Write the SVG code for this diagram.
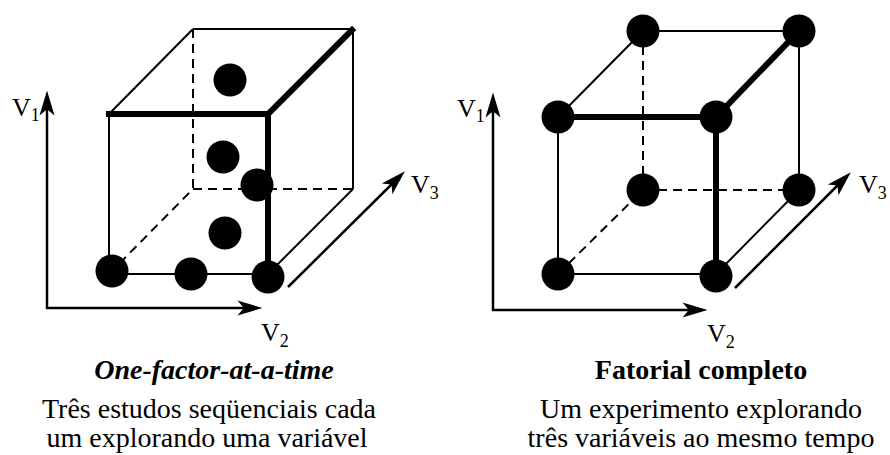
<svg xmlns="http://www.w3.org/2000/svg" width="890" height="455" viewBox="0 0 890 455">
<style>
.thin{stroke:#000;stroke-width:2;fill:none}
.thick{stroke:#000;stroke-width:6;fill:none;stroke-linecap:square}
.dash{stroke:#000;stroke-width:2;fill:none;stroke-dasharray:9 6}
.axis{stroke:#000;stroke-width:2.5;fill:none;marker-end:url(#ah)}
.dot{fill:#000}
text{font-family:"Liberation Serif","Times New Roman",Times,serif;fill:#000}
.lab{font-size:26px}
.sub{font-size:18px}
.cap{font-size:28px;text-anchor:middle}
.title{font-weight:bold}
</style>
<defs>
<marker id="ah" markerUnits="userSpaceOnUse" markerWidth="30" markerHeight="20" viewBox="-12 -8 24 16" refX="0" refY="0" orient="auto">
<path d="M10,0 L-10,-6 L-5,0 L-10,6 Z" fill="#000"/>
</marker>
</defs>
<g id="connectors">
<line class="thin" x1="109" y1="114" x2="109" y2="274"/>
<line class="thin" x1="109" y1="274" x2="268" y2="274"/>
<line class="thin" x1="193" y1="29" x2="353" y2="29"/>
<line class="thin" x1="109" y1="114" x2="193" y2="29"/>
<line class="thin" x1="353" y1="29" x2="353" y2="189"/>
<line class="thin" x1="268" y1="274" x2="353" y2="189"/>
<line class="dash" x1="193" y1="29" x2="193" y2="189"/>
<line class="dash" x1="193" y1="189" x2="353" y2="189"/>
<line class="dash" x1="109" y1="274" x2="193" y2="189"/>
<line class="thick" x1="109" y1="114" x2="268" y2="114"/>
<line class="thick" x1="268" y1="114" x2="268" y2="274"/>
<line class="thick" x1="268" y1="114" x2="352" y2="30"/>
<line class="axis" x1="47" y1="309" x2="47" y2="103"/>
<line class="axis" x1="46" y1="308" x2="250" y2="308"/>
<line class="axis" x1="288" y1="287" x2="396" y2="180"/>
<line class="thin" x1="558" y1="117" x2="558" y2="274"/>
<line class="thin" x1="558" y1="274" x2="716" y2="274"/>
<line class="thin" x1="643" y1="31" x2="799" y2="31"/>
<line class="thin" x1="558" y1="117" x2="643" y2="31"/>
<line class="thin" x1="799" y1="31" x2="799" y2="190"/>
<line class="thin" x1="716" y1="274" x2="799" y2="190"/>
<line class="dash" x1="643" y1="31" x2="643" y2="190"/>
<line class="dash" x1="643" y1="190" x2="799" y2="190"/>
<line class="dash" x1="558" y1="274" x2="643" y2="190"/>
<line class="thick" x1="558" y1="117" x2="716" y2="117"/>
<line class="thick" x1="716" y1="117" x2="716" y2="274"/>
<line class="thick" x1="716" y1="117" x2="799" y2="31"/>
<line class="axis" x1="493" y1="311" x2="493" y2="105"/>
<line class="axis" x1="492" y1="310" x2="695" y2="310"/>
<line class="axis" x1="735" y1="288" x2="842" y2="181"/>
</g>
<g id="left-points">
<circle class="dot" cx="230" cy="80" r="16.5"/>
<circle class="dot" cx="223" cy="157" r="16.5"/>
<circle class="dot" cx="257" cy="185" r="16.5"/>
<circle class="dot" cx="225" cy="233" r="16.5"/>
<circle class="dot" cx="112" cy="271" r="16.5"/>
<circle class="dot" cx="191" cy="274" r="16.5"/>
<circle class="dot" cx="268" cy="277" r="16.5"/>
</g>
<g id="right-points">
<circle class="dot" cx="643" cy="31" r="16.5"/>
<circle class="dot" cx="799" cy="31" r="16.5"/>
<circle class="dot" cx="558" cy="117" r="16.5"/>
<circle class="dot" cx="716" cy="117" r="16.5"/>
<circle class="dot" cx="643" cy="190" r="16.5"/>
<circle class="dot" cx="799" cy="190" r="16.5"/>
<circle class="dot" cx="558" cy="274" r="16.5"/>
<circle class="dot" cx="716" cy="276" r="16.5"/>
</g>
<g id="left-labels">
<text class="lab" x="12" y="116">V<tspan class="sub" dy="5">1</tspan></text>
<text class="lab" x="411" y="193">V<tspan class="sub" dy="6">3</tspan></text>
<text class="lab" x="261" y="341">V<tspan class="sub" dy="6">2</tspan></text>
</g>
<g id="right-labels">
<text class="lab" x="457" y="117">V<tspan class="sub" dy="5">1</tspan></text>
<text class="lab" x="859" y="193">V<tspan class="sub" dy="6">3</tspan></text>
<text class="lab" x="707" y="342">V<tspan class="sub" dy="6">2</tspan></text>
</g>
<g id="left-caption">
<text class="cap title" x="214" y="379" font-style="italic">One-factor-at-a-time</text>
<text class="cap" x="209" y="418">Três estudos seqüenciais cada</text>
<text class="cap" x="207" y="447">um explorando uma variável</text>
</g>
<g id="right-caption">
<text class="cap title" x="701" y="379">Fatorial completo</text>
<text class="cap" x="701" y="418">Um experimento explorando</text>
<text class="cap" x="701" y="447">três variáveis ao mesmo tempo</text>
</g>
</svg>
